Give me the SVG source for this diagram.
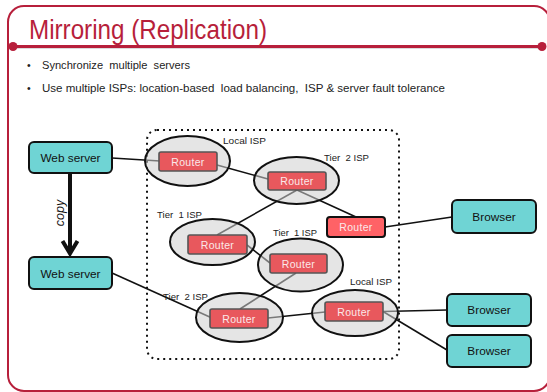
<svg xmlns="http://www.w3.org/2000/svg" width="547" height="392" viewBox="0 0 547 392">
  <style>
    .frame { fill: none; stroke: #b71f3b; stroke-width: 2; }
    .title { font-family: "Liberation Sans", Arial, sans-serif; font-size: 28px; fill: #b71f3b; }
    .bullet { font-family: "Liberation Sans", Arial, sans-serif; font-size: 10.5px; fill: #222; }
    .box { fill: #6fd4d4; stroke: #111; stroke-width: 2; }
    .boxlabel { font-family: "Liberation Sans", Arial, sans-serif; font-size: 11.8px; fill: #111; text-anchor: middle; }
    .isp { fill: #d0d0d0; fill-opacity: 0.55; stroke: #111; stroke-width: 2; }
    .router { fill: #e8585d; stroke: #555; stroke-width: 1.6; }
    .router-hot { fill: #ff6266; stroke: #111; stroke-width: 2; }
    .rlabel { font-family: "Liberation Sans", Arial, sans-serif; font-size: 10.5px; fill: #fbe9e9; text-anchor: middle; letter-spacing: 0.3px; }
    .isplabel { font-family: "Liberation Sans", Arial, sans-serif; font-size: 9.8px; fill: #222; }
    .link { stroke: #111; stroke-width: 1.6; fill: none; }
  </style>

  <!-- slide frame and header rule -->
  <rect class="frame" x="8" y="6" width="542" height="385" rx="16"/>
  <line x1="13" y1="48" x2="542" y2="48" stroke="#999" stroke-width="2" opacity="0.35"/>
  <line x1="13" y1="46.5" x2="542" y2="46.5" stroke="#b71f3b" stroke-width="3"/>
  <circle cx="13" cy="46.5" r="4.5" fill="#b71f3b"/>
  <circle cx="542" cy="46.5" r="4.5" fill="#b71f3b"/>

  <text class="title" x="29" y="39" textLength="238" lengthAdjust="spacingAndGlyphs">Mirroring (Replication)</text>

  <text class="bullet" x="27" y="68.5">•</text>
  <text class="bullet" x="42" y="68.5" textLength="148" lengthAdjust="spacingAndGlyphs" xml:space="preserve">Synchronize  multiple  servers</text>
  <text class="bullet" x="27" y="91.5">•</text>
  <text class="bullet" x="42" y="91.5" textLength="403" lengthAdjust="spacingAndGlyphs" xml:space="preserve">Use multiple ISPs: location-based  load balancing,  ISP &amp; server fault tolerance</text>

  <!-- internet boundary -->
  <rect x="147" y="130" width="252" height="229" rx="10" fill="none" stroke="#111" stroke-width="2" stroke-dasharray="2 4"/>

  <!-- connectors -->
  <g id="connectors">
    <line class="link" x1="112" y1="158" x2="160" y2="161"/>
    <line class="link" x1="217" y1="165" x2="268" y2="179"/>
    <line class="link" x1="297" y1="190" x2="217" y2="235"/>
    <line class="link" x1="297" y1="190" x2="356" y2="217"/>
    <line class="link" x1="385" y1="227" x2="452" y2="217"/>
    <line class="link" x1="247" y1="245" x2="270" y2="263"/>
    <line class="link" x1="296" y1="273" x2="240" y2="309"/>
    <line class="link" x1="112" y1="273" x2="212" y2="318"/>
    <line class="link" x1="268" y1="318" x2="325" y2="312"/>
    <line class="link" x1="383" y1="311.5" x2="447" y2="310"/>
    <line class="link" x1="383" y1="311.5" x2="447" y2="350"/>
    <!-- copy arrow -->
    <line x1="70" y1="173" x2="70" y2="254" stroke="#111" stroke-width="4"/>
    <polyline points="62.5,241 70,253.5 77.5,241" fill="none" stroke="#111" stroke-width="4" stroke-linejoin="miter"/>
    <text x="0" y="0" transform="translate(64,213) rotate(-90)" font-family="'Liberation Sans', Arial, sans-serif" font-size="12.5" font-style="italic" fill="#111" text-anchor="middle">copy</text>
  </g>

  <!-- web servers -->
  <g id="webserver1">
    <rect class="box" x="29" y="142" width="83" height="31" rx="5"/>
    <text class="boxlabel" x="70.5" y="162">Web server</text>
  </g>
  <g id="webserver2">
    <rect class="box" x="29" y="257" width="83" height="32" rx="5"/>
    <text class="boxlabel" x="70.5" y="277.5">Web server</text>
  </g>

  <!-- browsers -->
  <g id="browser1">
    <rect class="box" x="452" y="200" width="84" height="33" rx="5"/>
    <text class="boxlabel" x="494" y="220.5">Browser</text>
  </g>
  <g id="browser2">
    <rect class="box" x="447" y="294" width="84" height="32" rx="5"/>
    <text class="boxlabel" x="489" y="314">Browser</text>
  </g>
  <g id="browser3">
    <rect class="box" x="447" y="335" width="84" height="32" rx="5"/>
    <text class="boxlabel" x="489" y="355">Browser</text>
  </g>

  <!-- ISPs with their routers -->
  <g id="local-isp-top">
    <ellipse class="isp" cx="187.5" cy="161" rx="42.5" ry="25"/>
    <rect class="router" x="159" y="152" width="58" height="19" rx="2"/>
    <text class="rlabel" x="188" y="165.5">Router</text>
    <text class="isplabel" x="223" y="143.5" textLength="43" lengthAdjust="spacingAndGlyphs">Local ISP</text>
  </g>
  <g id="tier2-isp-top">
    <ellipse class="isp" cx="296.5" cy="180.5" rx="42.5" ry="23.5"/>
    <rect class="router" x="268" y="172" width="58" height="18" rx="2"/>
    <text class="rlabel" x="297" y="185">Router</text>
    <text class="isplabel" x="324" y="160.5" textLength="45" lengthAdjust="spacingAndGlyphs" xml:space="preserve">Tier  2 ISP</text>
  </g>
  <g id="edge-router">
    <rect class="router-hot" x="327" y="217" width="58" height="20" rx="3"/>
    <text class="rlabel" x="356" y="231">Router</text>
  </g>
  <g id="tier1-isp-left">
    <ellipse class="isp" cx="212.5" cy="242" rx="42.5" ry="23"/>
    <rect class="router" x="188" y="235" width="59" height="19" rx="2"/>
    <text class="rlabel" x="217.5" y="248.5">Router</text>
    <text class="isplabel" x="157" y="217.5" textLength="45" lengthAdjust="spacingAndGlyphs" xml:space="preserve">Tier  1 ISP</text>
  </g>
  <g id="tier1-isp-right">
    <ellipse class="isp" cx="300.5" cy="265" rx="42.5" ry="26.5"/>
    <rect class="router" x="270" y="254" width="57" height="19" rx="2"/>
    <text class="rlabel" x="298.5" y="267.5">Router</text>
    <text class="isplabel" x="273" y="235.5" textLength="44" lengthAdjust="spacingAndGlyphs" xml:space="preserve">Tier  1 ISP</text>
  </g>
  <g id="tier2-isp-bottom">
    <ellipse class="isp" cx="239.5" cy="317.5" rx="43.5" ry="24.5"/>
    <rect class="router" x="210" y="309" width="58" height="19" rx="2"/>
    <text class="rlabel" x="239" y="322.5">Router</text>
    <text class="isplabel" x="163" y="299.5" textLength="45" lengthAdjust="spacingAndGlyphs" xml:space="preserve">Tier  2 ISP</text>
  </g>
  <g id="local-isp-bottom">
    <ellipse class="isp" cx="355" cy="313" rx="43" ry="23"/>
    <rect class="router" x="325" y="302" width="58" height="19" rx="2"/>
    <text class="rlabel" x="354" y="315.5">Router</text>
    <text class="isplabel" x="350" y="284.5" textLength="42" lengthAdjust="spacingAndGlyphs">Local ISP</text>
  </g>
</svg>
